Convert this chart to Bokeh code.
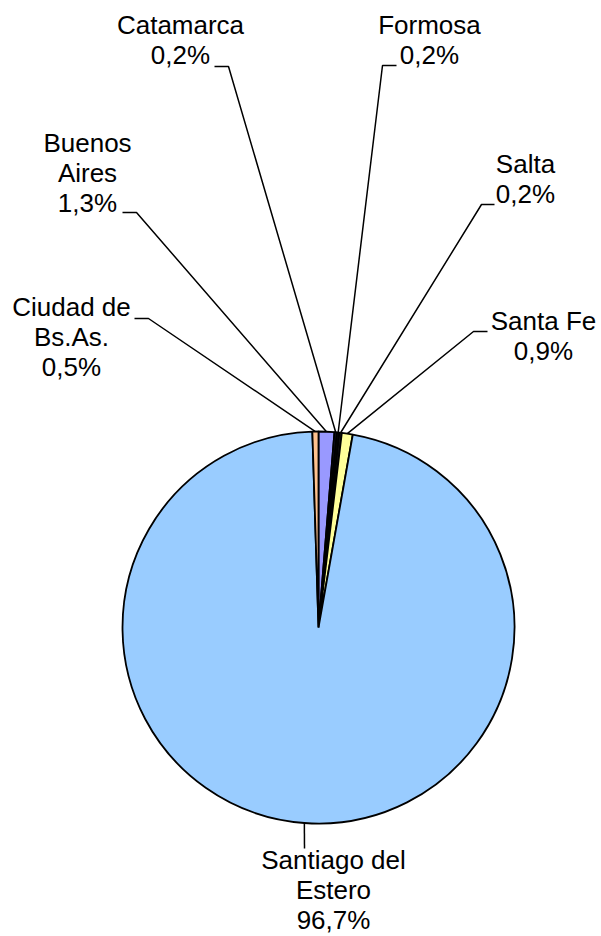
import math
from bokeh.plotting import figure
from bokeh.models import Range1d
from bokeh.embed import file_html
from bokeh.resources import INLINE
from bokeh.core.properties import value

# ---- data (clockwise from 12 o'clock) ----
provinces = ["Buenos\nAires", "Catamarca", "Formosa", "Salta", "Santa Fe",
             "Santiago del\nEstero", "Ciudad de\nBs.As."]
shares = [1.3, 0.2, 0.2, 0.2, 0.9, 96.7, 0.5]
colors = ["#9999FF", "#1A1A2E", "#0A0A0A", "#202020", "#FFFF99", "#99CCFF", "#FFC28F"]

# ---- layout (page pixel coordinates) ----
W, H = 601, 936
CX, CY, R = 318, 627, 196
FONT = "Liberation Sans"
FSIZE = "26px"
LINE_H = 30
TEXT_DY = -11  # compensate renderer baseline offset

# label: center x, baseline of first line, leader stub points (elbow -> end)
layout = {
    "Buenos\nAires":        dict(x=87,  y=153, stub=[(136, 212), (122, 212)]),
    "Catamarca":            dict(x=180, y=35,  stub=[(228, 66), (214, 66)]),
    "Formosa":              dict(x=429, y=35,  stub=[(382, 65), (396, 65)]),
    "Salta":                dict(x=525, y=174, stub=[(481, 204), (494, 204)]),
    "Santa Fe":             dict(x=543, y=331, stub=[(473, 331), (487, 331)]),
    "Santiago del\nEstero": dict(x=333, y=870, stub=[(304, 848)]),
    "Ciudad de\nBs.As.":    dict(x=71,  y=317, stub=[(148, 318), (134, 318)]),
}


def X(px):
    return px


def Y(py):
    return H - py


p = figure(width=W, height=H, output_backend="svg", toolbar_location=None,
           x_range=Range1d(0, W), y_range=Range1d(0, H),
           min_border=0)
p.axis.visible = False
p.grid.visible = False
p.outline_line_color = None
p.background_fill_color = "white"
p.border_fill_color = "white"

total = sum(shares)
cum = 0.0
starts, ends, mids = [], [], []
for s in shares:
    a0 = cum / total
    cum += s
    a1 = cum / total
    starts.append(math.pi / 2 - 2 * math.pi * a1)
    ends.append(math.pi / 2 - 2 * math.pi * a0)
    mids.append((a0 + a1) / 2)

p.wedge(x=[X(CX)] * len(shares), y=[Y(CY)] * len(shares), radius=R,
        start_angle=starts, end_angle=ends, direction="anticlock",
        fill_color=colors, line_color="black", line_width=1.8)

# leader lines
for name, m in zip(provinces, mids):
    ang = 2 * math.pi * m
    ex = CX + R * math.sin(ang)
    ey = CY - R * math.cos(ang)
    pts = [(ex, ey)] + layout[name]["stub"]
    p.line([X(q[0]) for q in pts], [Y(q[1]) for q in pts],
           line_color="black", line_width=1.5)

# labels
tx, ty, tt = [], [], []
for name, s in zip(provinces, shares):
    lines = name.split("\n") + [f"{s:.1f}".replace(".", ",") + "%"]
    L = layout[name]
    for i, t in enumerate(lines):
        tx.append(X(L["x"]))
        ty.append(Y(L["y"] + i * LINE_H + TEXT_DY))
        tt.append(t)

p.text(x=tx, y=ty, text=tt, text_align="center", text_baseline="alphabetic",
       text_font=value(FONT), text_font_size=FSIZE, text_color="black")

open("out.html", "w").write(file_html(p, INLINE))
